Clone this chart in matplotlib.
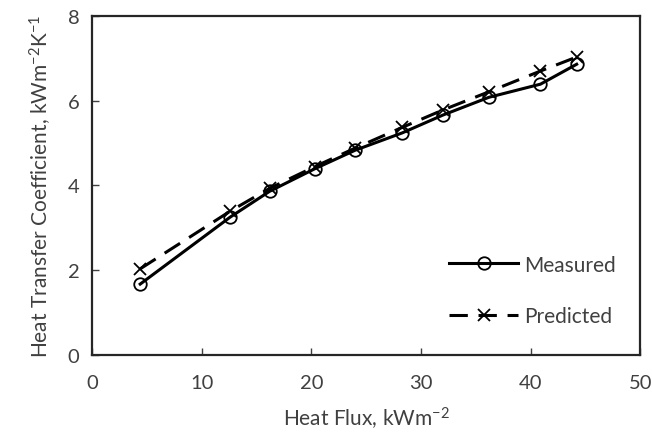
import numpy as np
import matplotlib
matplotlib.use("Agg")
import matplotlib.pyplot as plt

plt.rcParams['font.family'] = ['Lato', 'DejaVu Sans']
plt.rcParams['mathtext.fontset'] = 'custom'
plt.rcParams['mathtext.rm'] = 'Lato'
plt.rcParams['mathtext.it'] = 'Lato:italic'
plt.rcParams['mathtext.default'] = 'regular'

heat_flux = [4.4, 12.6, 16.2, 20.3, 24.0, 28.3, 32.0, 36.2, 40.9, 44.2]
measured = [1.67, 3.25, 3.86, 4.39, 4.83, 5.24, 5.66, 6.08, 6.39, 6.86]
predicted = [2.03, 3.39, 3.93, 4.44, 4.88, 5.37, 5.78, 6.21, 6.70, 7.03]

txt = '#404040'
frame = '#262626'

fig = plt.figure(figsize=(6.52, 4.35), dpi=100)
ax = fig.add_axes([0.141, 0.182, 0.841, 0.779])

ax.plot(heat_flux, measured, '-', color='black', lw=2.2, marker='o',
        markersize=9, markerfacecolor='none', markeredgewidth=1.3, label='Measured')
ax.plot(heat_flux, predicted, '--', color='black', lw=2.2, dashes=(6, 3.5), marker='x',
        markersize=9, markeredgewidth=1.3, label='Predicted')

ax.set_xlim(0, 50)
ax.set_ylim(0, 8)
ax.set_xticks(np.arange(0, 51, 10))
ax.set_yticks(np.arange(0, 9, 2))
ax.tick_params(direction='in', length=5, width=1, colors='#404040', labelsize=14.5,
               labelcolor=txt, pad=9)
ax.tick_params(axis='x', pad=14)
for s in ax.spines.values():
    s.set_linewidth(1.6)
    s.set_color(frame)

ax.set_xlabel('Heat Flux, kWm$^{-2}$', fontsize=15, color=txt, labelpad=10)
ax.set_ylabel('Heat Transfer Coefficient, kWm$^{-2}$K$^{-1}$', fontsize=15, color=txt, labelpad=10)

leg = ax.legend(loc='lower right', bbox_to_anchor=(0.99, 0.03), frameon=False,
                fontsize=15, handlelength=3.3, labelspacing=1.5, handletextpad=0.3)
for t in leg.get_texts():
    t.set_color(txt)

fig.savefig('out.png', dpi=100)
